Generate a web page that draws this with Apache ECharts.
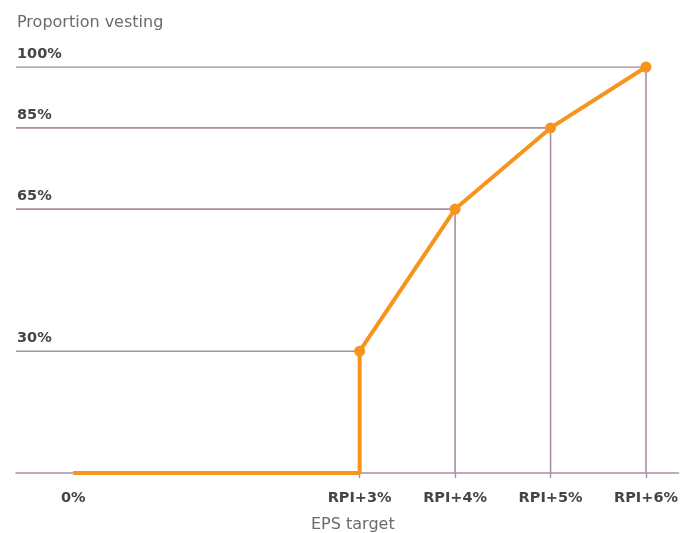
<!DOCTYPE html>
<html>
<head>
<meta charset="utf-8">
<script src="https://cdn.jsdelivr.net/npm/echarts@6/dist/echarts.min.js"></script>
<style>
  html, body { margin: 0; padding: 0; background: #ffffff; }
  #chart { width: 681px; height: 533px; }
</style>
</head>
<body>
<div id="chart"></div>
<script>
// Vesting schedule: proportion vesting against EPS growth target
const targetPositions = [0, 3, 4, 5, 6];
const targetLabels = ['0%', 'RPI+3%', 'RPI+4%', 'RPI+5%', 'RPI+6%'];
const vestingPath = [[0, 0], [3, 0], [3, 30], [4, 65], [5, 85], [6, 100]];
const vestingLevels = [30, 65, 85, 100];
const levelTargets = [3, 4, 5, 6];

const X_MIN = -0.6;
const X_MAX = 6.34;
const GUIDE = '#a98ea7';
const ORANGE = '#f7941d';

const chart = echarts.init(document.getElementById('chart'), null, { renderer: 'canvas' });

// guide lines: from the left edge across to each point, then down to the baseline
const guideSeries = vestingLevels.map((lvl, i) => ({
  type: 'line',
  silent: true,
  symbol: 'none',
  z: 1,
  lineStyle: { color: GUIDE, width: 1.6 },
  data: [[X_MIN, lvl], [levelTargets[i], lvl], [levelTargets[i], 0]]
}));

const vestingSeries = {
  type: 'line',
  z: 5,
  symbol: 'circle',
  symbolSize: 11,
  lineStyle: { color: ORANGE, width: 4 },
  itemStyle: { color: ORANGE },
  data: vestingPath.map((p, i) => ({
    value: p,
    symbol: i < 2 ? 'none' : 'circle'
  }))
};

chart.setOption({
  animation: false,
  textStyle: { fontFamily: 'DejaVu Sans' },
  grid: { left: 16, right: 0, top: 67, bottom: 60 },
  xAxis: {
    type: 'value',
    min: X_MIN,
    max: X_MAX,
    splitLine: { show: false },
    axisLine: { show: true, lineStyle: { color: GUIDE, width: 1.6 } },
    axisTick: {
      show: true,
      customValues: levelTargets,
      length: 5,
      lineStyle: { color: GUIDE, width: 1.4 }
    },
    axisLabel: {
      customValues: targetPositions,
      margin: 18,
      fontSize: 14.5,
      fontWeight: 'bold',
      color: '#454545',
      formatter: v => targetLabels[targetPositions.indexOf(v)]
    }
  },
  yAxis: {
    type: 'value',
    min: 0,
    max: 100,
    axisLine: { show: false },
    axisTick: { show: false },
    splitLine: { show: false },
    axisLabel: {
      customValues: vestingLevels,
      inside: true,
      margin: 1,
      fontSize: 14.5,
      fontWeight: 'bold',
      color: '#454545',
      verticalAlign: 'bottom',
      padding: [0, 0, 5, 0],
      formatter: v => v + '%'
    }
  },
  graphic: [
    {
      type: 'text',
      left: 17,
      top: 15,
      style: { text: 'Proportion vesting', fontSize: 16, fill: '#6b6b6b', fontFamily: 'DejaVu Sans' }
    },
    {
      type: 'text',
      left: 311,
      top: 517,
      style: { text: 'EPS target', fontSize: 16, fill: '#6b6b6b', fontFamily: 'DejaVu Sans' }
    }
  ],
  series: guideSeries.concat([vestingSeries])
});
</script>
</body>
</html>
